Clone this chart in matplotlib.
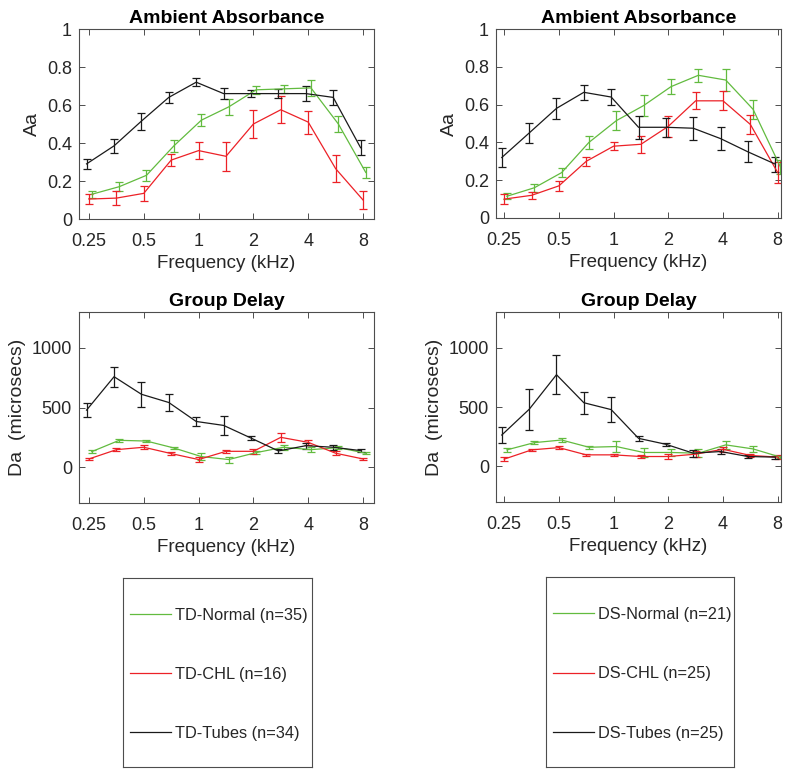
import numpy as np
import matplotlib
matplotlib.use("Agg")
import matplotlib.pyplot as plt
from matplotlib.lines import Line2D

freqs = np.array([0.25, 0.354, 0.5, 0.707, 1.0, 1.414, 2.0, 2.828, 4.0, 5.657, 8.0])

# TD group: ambient absorbance
td_normal_aa = [0.13, 0.17, 0.23, 0.385, 0.52, 0.59, 0.68, 0.685, 0.69, 0.50, 0.245]
td_normal_aa_err = [0.02, 0.025, 0.03, 0.03, 0.03, 0.04, 0.02, 0.02, 0.04, 0.04, 0.03]
td_chl_aa = [0.105, 0.11, 0.135, 0.31, 0.36, 0.33, 0.50, 0.575, 0.51, 0.265, 0.10]
td_chl_aa_err = [0.025, 0.035, 0.04, 0.03, 0.045, 0.075, 0.075, 0.07, 0.06, 0.07, 0.045]
td_tubes_aa = [0.29, 0.385, 0.515, 0.64, 0.72, 0.66, 0.66, 0.66, 0.66, 0.64, 0.375]
td_tubes_aa_err = [0.025, 0.035, 0.045, 0.03, 0.02, 0.03, 0.02, 0.025, 0.04, 0.04, 0.04]

# DS group: ambient absorbance
ds_normal_aa = [0.115, 0.16, 0.24, 0.40, 0.515, 0.595, 0.695, 0.755, 0.73, 0.575, 0.27]
ds_normal_aa_err = [0.015, 0.02, 0.025, 0.035, 0.05, 0.055, 0.04, 0.035, 0.06, 0.05, 0.035]
ds_chl_aa = [0.10, 0.12, 0.17, 0.30, 0.38, 0.39, 0.485, 0.62, 0.62, 0.495, 0.24]
ds_chl_aa_err = [0.025, 0.02, 0.025, 0.025, 0.02, 0.045, 0.055, 0.045, 0.05, 0.05, 0.055]
ds_tubes_aa = [0.32, 0.45, 0.58, 0.665, 0.64, 0.48, 0.48, 0.475, 0.42, 0.35, 0.285]
ds_tubes_aa_err = [0.05, 0.055, 0.055, 0.04, 0.04, 0.06, 0.05, 0.06, 0.06, 0.055, 0.04]

# TD group: group delay (microsecs)
td_normal_gd = [130, 225, 219, 161, 89, 64, 122, 167, 147, 164, 117]
td_normal_gd_err = [12, 10, 10, 12, 30, 25, 15, 20, 20, 15, 10]
td_chl_gd = [69, 147, 167, 114, 64, 133, 133, 250, 208, 117, 69]
td_chl_gd_err = [8, 10, 15, 15, 20, 10, 20, 40, 20, 15, 8]
td_tubes_gd = [478, 758, 611, 542, 383, 350, 244, 136, 180, 167, 139]
td_tubes_gd_err = [60, 83, 104, 70, 37, 82, 15, 20, 25, 20, 12]

# DS group: group delay (microsecs)
ds_normal_gd = [139, 200, 222, 161, 167, 117, 117, 111, 181, 147, 78]
ds_normal_gd_err = [15, 15, 15, 12, 50, 40, 30, 35, 35, 25, 8]
ds_chl_gd = [61, 139, 158, 97, 97, 83, 83, 103, 144, 92, 78]
ds_chl_gd_err = [15, 10, 10, 10, 10, 15, 20, 25, 20, 15, 15]
ds_tubes_gd = [264, 481, 772, 536, 478, 236, 186, 111, 125, 83, 78]
ds_tubes_gd_err = [65, 174, 164, 93, 104, 20, 12, 30, 20, 15, 12]

td_labels = ["TD-Normal (n=35)", "TD-CHL (n=16)", "TD-Tubes (n=34)"]
ds_labels = ["DS-Normal (n=21)", "DS-CHL (n=25)", "DS-Tubes (n=25)"]

xticks = [0.25, 0.5, 1, 2, 4, 8]
xticklabels = ["0.25", "0.5", "1", "2", "4", "8"]

GREEN = "#62bb3f"
RED = "#ec2127"
BLACK = "#1a1a1a"
AXCOL = "#4d4d4d"
TXT = "#262626"

plt.rcParams.update({
    "font.family": ["Liberation Sans", "DejaVu Sans"],
    "font.size": 12,
})

fig = plt.figure(figsize=(8.0, 7.77), dpi=100)
W, H = 800.0, 777.0


def box(l, t, r, b):
    return [l / W, 1 - b / H, (r - l) / W, (b - t) / H]


def style_axes(ax, xlim, ylim, yticks, yticklabels, title, ylabel):
    ax.set_xscale("log")
    ax.set_xlim(*xlim)
    ax.set_ylim(*ylim)
    ax.set_xticks(xticks)
    ax.set_xticklabels(xticklabels)
    ax.xaxis.set_minor_locator(matplotlib.ticker.NullLocator())
    ax.set_yticks(yticks)
    ax.set_yticklabels(yticklabels)
    ax.tick_params(direction="in", top=True, right=True, length=4, width=0.7,
                   color=AXCOL, labelcolor=TXT, labelsize=13, pad=5)
    ax.tick_params(axis="x", pad=10)
    for s in ax.spines.values():
        s.set_color(AXCOL)
        s.set_linewidth(0.8)
    ax.set_title(title, fontsize=14, fontweight="bold", pad=4)
    ax.set_xlabel("Frequency (kHz)", fontsize=13.5, color=TXT, labelpad=4)
    ax.set_ylabel(ylabel, fontsize=14, color=TXT, labelpad=4)


def draw(ax, series):
    shifts = [1.035, 1.0, 0.97]
    colors = [GREEN, RED, BLACK]
    handles = []
    for (vals, errs), sh, c in zip(series, shifts, colors):
        cont = ax.errorbar(freqs * sh, vals, yerr=errs, color=c, lw=0.9,
                           elinewidth=0.9, capsize=3, capthick=0.9)
        handles.append(cont[0])
    return handles


aa_ticks = [0, 0.2, 0.4, 0.6, 0.8, 1]
aa_labels = ["0", "0.2", "0.4", "0.6", "0.8", "1"]
gd_ticks = [0, 500, 1000]
gd_labels = ["0", "500", "1000"]

ax1 = fig.add_axes(box(79, 29, 374, 219))
h_td = draw(ax1, [(td_normal_aa, td_normal_aa_err), (td_chl_aa, td_chl_aa_err),
                  (td_tubes_aa, td_tubes_aa_err)])
style_axes(ax1, (0.2204, 9.19), (0, 1), aa_ticks, aa_labels, "Ambient Absorbance", "Aa")

ax2 = fig.add_axes(box(496, 29, 781, 218))
h_ds = draw(ax2, [(ds_normal_aa, ds_normal_aa_err), (ds_chl_aa, ds_chl_aa_err),
                  (ds_tubes_aa, ds_tubes_aa_err)])
style_axes(ax2, (0.2254, 8.34), (0, 1), aa_ticks, aa_labels, "Ambient Absorbance", "Aa")

ax3 = fig.add_axes(box(79, 312, 374, 503))
draw(ax3, [(td_normal_gd, td_normal_gd_err), (td_chl_gd, td_chl_gd_err),
           (td_tubes_gd, td_tubes_gd_err)])
style_axes(ax3, (0.2204, 9.19), (-300, 1300), gd_ticks, gd_labels, "Group Delay",
           "Da  (microsecs)")

ax4 = fig.add_axes(box(496, 312, 781, 502))
draw(ax4, [(ds_normal_gd, ds_normal_gd_err), (ds_chl_gd, ds_chl_gd_err),
           (ds_tubes_gd, ds_tubes_gd_err)])
style_axes(ax4, (0.2254, 8.34), (-300, 1300), gd_ticks, gd_labels, "Group Delay",
           "Da  (microsecs)")

# legend boxes
for rect, handles, labels in [((123, 578, 312, 767), h_td, td_labels),
                              ((546, 577, 734, 767), h_ds, ds_labels)]:
    lax = fig.add_axes(box(*rect))
    lax.set_xticks([])
    lax.set_yticks([])
    for s in lax.spines.values():
        s.set_color(AXCOL)
        s.set_linewidth(0.8)
    proxies = [Line2D([], [], color=h.get_color(), lw=0.9) for h in handles]
    lax.legend(proxies, labels, loc="center left", bbox_to_anchor=(0, 0.49),
               frameon=False, fontsize=11.8,
               labelspacing=2.7, handlelength=2.5, handletextpad=0.25,
               borderaxespad=0.0, borderpad=0.4, labelcolor=TXT)

fig.savefig("out.png", dpi=100)
